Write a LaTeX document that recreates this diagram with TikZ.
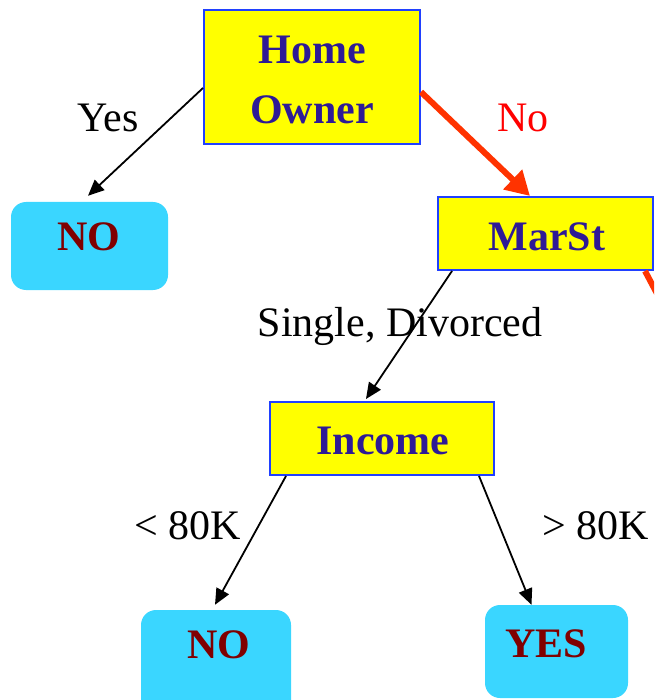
\documentclass[tikz,border=0pt]{standalone}
\usepackage{fontspec}
\setmainfont{Liberation Serif}
\usetikzlibrary{arrows.meta}
\definecolor{boxyellow}{RGB}{255,255,0}
\definecolor{boxblue}{RGB}{32,64,255}
\definecolor{txtblue}{RGB}{46,26,150}
\definecolor{leafcyan}{RGB}{58,214,255}
\definecolor{leafred}{RGB}{128,0,0}
\definecolor{arrred}{RGB}{255,51,0}
\definecolor{lblred}{RGB}{255,0,0}
\begin{document}
\begin{tikzpicture}[x=1pt,y=-1pt,
  testbox/.style={draw=boxblue, line width=2pt, fill=boxyellow, inner sep=0pt},
  testtext/.style={text=txtblue, font=\fontsize{42}{60}\selectfont\bfseries, align=center, inner sep=0pt},
  leafbox/.style={fill=leafcyan, rounded corners=15pt, inner sep=0pt},
  leaftext/.style={text=leafred, font=\fontsize{42}{50}\selectfont\bfseries, inner sep=0pt},
  edgelabel/.style={font=\fontsize{42}{50}\selectfont, inner sep=0pt, anchor=base},
  conn/.style={line width=1.8pt, -{Triangle[length=16pt,width=14pt]}},
  redconn/.style={draw=arrred, line width=6pt, -{Triangle[length=24pt,width=26pt]}}
]
\useasboundingbox (0,0) rectangle (654,700);
\clip (0,0) rectangle (654,700);

% decision boxes
\node[testbox, minimum width=216pt, minimum height=134pt] (home) at (312,77) {};
\node[testtext] (hometext) at (312,80) {Home\\Owner};
\node[testbox, minimum width=215pt, minimum height=73pt] (marst) at (545.5,233.5) {};
\node[testtext] (marsttext) at (547,237) {MarSt};
\node[testbox, minimum width=224pt, minimum height=73pt] (income) at (382,438.5) {};
\node[testtext] (incometext) at (383,441) {Income};

% leaves
\node[leafbox, minimum width=157pt, minimum height=88pt] (no1) at (89.5,246) {};
\node[leaftext] (no1text) at (89,237) {NO};
\node[leafbox, minimum width=150pt, minimum height=110pt] (no2) at (216,665) {};
\node[leaftext] (no2text) at (219,645) {NO};
\node[leafbox, minimum width=143pt, minimum height=93pt] (yes) at (556.5,651.5) {};
\node[leaftext] (yestext) at (546,643.5) {YES};

% connectors
\draw[conn] ([yshift=-11pt]home.west) -- ([xshift=-1.5pt,yshift=6pt]no1.north);
\draw[redconn] ([yshift=-15pt]home.east) -- ([xshift=-15.5pt]marst.north);
\coordinate (offright) at (672,322);
\draw[draw=arrred, line width=6pt] ([xshift=-9pt]marst.south east) -- (offright);
\draw[conn] ([xshift=15pt]marst.south west) -- ([xshift=-16pt,yshift=2pt]income.north);
\draw[conn] ([xshift=17pt]income.south west) -- ([xshift=-1pt,yshift=5pt]no2.north);
\draw[conn] ([xshift=-16pt]income.south east) -- ([xshift=-25pt]yes.north);

% edge labels
\node[edgelabel] (lyes) at (108,132) {Yes};
\node[edgelabel, text=lblred] (lno) at (523,132) {No};
\node[edgelabel] (lsd) at (400,336) {Single, Divorced};
\node[edgelabel] (llt) at (188,539) {< 80K};
\node[edgelabel] (lgt) at (596,539) {> 80K};
\end{tikzpicture}
\end{document}
